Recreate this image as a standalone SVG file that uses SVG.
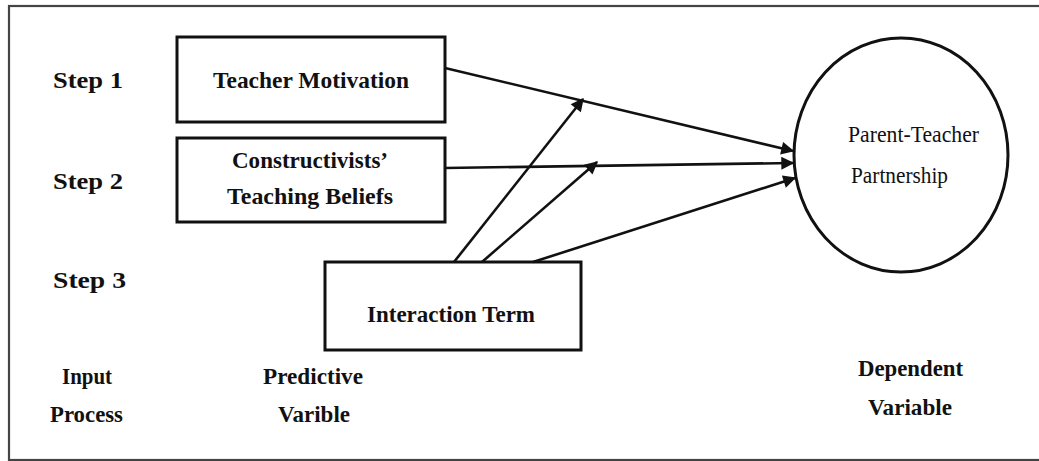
<svg xmlns="http://www.w3.org/2000/svg" width="1039" height="461" viewBox="0 0 1039 461">
<style>
.box{fill:#fff;stroke:#111;stroke-width:3}
.lbl{font-family:"Liberation Serif","Times New Roman",Times,serif;font-weight:bold;font-size:24px;fill:#111}
.thin{font-family:"Liberation Serif","Times New Roman",Times,serif;font-size:23px;fill:#111}
.conn line{stroke:#111;stroke-width:2.6;marker-end:url(#ah)}
</style>
<defs>
<marker id="ah" viewBox="0 0 10 10" refX="9" refY="5" markerWidth="6.5" markerHeight="5" markerUnits="strokeWidth" orient="auto">
<path d="M0,0 L10,5 L0,10 z" fill="#111"/>
</marker>
</defs>
<rect x="0" y="0" width="1039" height="461" fill="#fff"/>
<rect x="9" y="6" width="1040" height="454" fill="none" stroke="#444" stroke-width="2.2"/>
<g id="labels">
<text class="lbl" x="53" y="88" textLength="70" lengthAdjust="spacingAndGlyphs">Step  1</text>
<text class="lbl" x="53" y="189" textLength="70" lengthAdjust="spacingAndGlyphs">Step  2</text>
<text class="lbl" x="53" y="288" textLength="73" lengthAdjust="spacingAndGlyphs">Step  3</text>
<text class="lbl" x="62" y="384" textLength="50" lengthAdjust="spacingAndGlyphs">Input</text>
<text class="lbl" x="50" y="422" textLength="73" lengthAdjust="spacingAndGlyphs">Process</text>
<text class="lbl" x="263" y="384" textLength="100" lengthAdjust="spacingAndGlyphs">Predictive</text>
<text class="lbl" x="278" y="422" textLength="72" lengthAdjust="spacingAndGlyphs">Varible</text>
<text class="lbl" x="858" y="376" textLength="105" lengthAdjust="spacingAndGlyphs">Dependent</text>
<text class="lbl" x="868" y="415" textLength="84" lengthAdjust="spacingAndGlyphs">Variable</text>
</g>
<g id="node-teacher-motivation">
<rect class="box" x="177" y="37" width="268" height="85"/>
<text class="lbl" x="213" y="88" textLength="196" lengthAdjust="spacingAndGlyphs">Teacher  Motivation</text>
</g>
<g id="node-constructivists">
<rect class="box" x="177" y="138" width="268" height="84"/>
<text class="lbl" x="232" y="168" textLength="156" lengthAdjust="spacingAndGlyphs">Constructivists’</text>
<text class="lbl" x="227" y="204" textLength="166" lengthAdjust="spacingAndGlyphs">Teaching  Beliefs</text>
</g>
<g id="node-interaction">
<rect class="box" x="325" y="262" width="256" height="88"/>
<text class="lbl" x="367" y="322" textLength="168" lengthAdjust="spacingAndGlyphs">Interaction  Term</text>
</g>
<g id="node-partnership">
<ellipse cx="901" cy="155" rx="107" ry="117" fill="#fff" stroke="#111" stroke-width="3"/>
<text class="thin" x="848" y="142" textLength="131" lengthAdjust="spacingAndGlyphs">Parent-Teacher</text>
<text class="thin" x="851" y="183" textLength="97" lengthAdjust="spacingAndGlyphs">Partnership</text>
</g>
<g id="connectors" class="conn">
<line x1="445" y1="68" x2="793" y2="151"/>
<line x1="445" y1="168" x2="793" y2="163"/>
<line x1="533" y1="262" x2="795" y2="178"/>
<line x1="454" y1="262" x2="583" y2="99"/>
<line x1="482" y1="262" x2="597" y2="162"/>
</g>
</svg>
